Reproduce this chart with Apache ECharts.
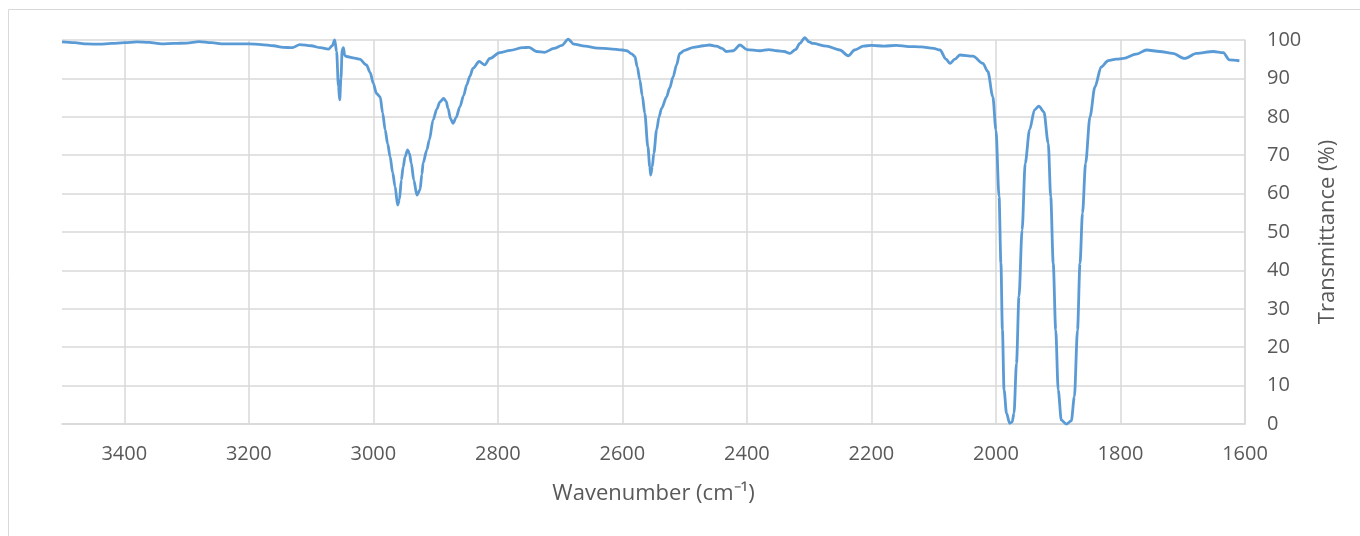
<!DOCTYPE html>
<html>
<head>
<meta charset="utf-8">
<title>IR spectrum</title>
<script src="https://cdn.jsdelivr.net/npm/echarts@6/dist/echarts.min.js"></script>
<style>
  html, body { margin: 0; padding: 0; background: #fff; }
  #chart { width: 1360px; height: 536px; }
</style>
</head>
<body>
<div id="chart"></div>
<script>
// wavenumber (cm-1) and transmittance (%)
var wavenumber = [
  3500, 3480, 3460, 3440, 3420, 3400, 3380, 3360, 3340, 3320, 3300, 3280, 3260, 3240, 3220, 3200,
  3180, 3160, 3145, 3130, 3118, 3100, 3085, 3072, 3066, 3062, 3059, 3056, 3054, 3052, 3050, 3048,
  3046, 3043, 3030, 3022, 3011, 3005, 3000, 2995, 2989, 2985, 2981, 2977, 2973, 2969, 2965, 2961,
  2958, 2955, 2952, 2949, 2945, 2942, 2939, 2935, 2930, 2925, 2922, 2920, 2914, 2910, 2904, 2898,
  2893, 2887, 2883, 2880, 2876, 2872, 2867, 2861, 2855, 2850, 2845, 2840, 2830, 2821, 2813, 2797,
  2780, 2760, 2750, 2738, 2725, 2710, 2697, 2687, 2678, 2660, 2640, 2620, 2600, 2593, 2585, 2580,
  2576, 2572, 2568, 2564, 2559, 2556, 2554.5, 2552, 2549.5, 2545, 2541, 2537, 2529, 2524, 2518.6, 2513,
  2508, 2500, 2486, 2470, 2460, 2449, 2440, 2433, 2422, 2411, 2400, 2379, 2365, 2352, 2340, 2331,
  2322, 2315, 2307, 2300, 2294, 2272, 2251, 2237, 2227, 2213, 2200, 2180, 2160, 2140, 2120, 2100,
  2090, 2080, 2074, 2066, 2058, 2037, 2021, 2013, 2005, 2000, 1995, 1992, 1989.6, 1987, 1983, 1978,
  1974, 1971, 1967, 1963, 1958, 1953, 1946, 1938, 1931, 1923, 1916, 1912, 1908, 1904, 1900, 1895,
  1887, 1879, 1874, 1869, 1865, 1861, 1856, 1849, 1841, 1831, 1820, 1807, 1795, 1775, 1758, 1737,
  1716, 1697, 1678, 1651, 1635, 1625, 1609
];
var transmittance = [
  99.5, 99.3, 99.0, 98.9, 99.1, 99.3, 99.5, 99.4, 99.0, 99.1, 99.2, 99.6, 99.3, 99.0, 99.0, 99.0,
  98.8, 98.5, 98.1, 98.0, 98.8, 98.5, 98.0, 97.6, 98.5, 100, 97, 88, 84.4, 90, 97.5, 98,
  96.0, 95.7, 95.3, 95.0, 93.5, 91.5, 88.7, 86.1, 85.2, 81, 76.6, 73, 69.6, 65.5, 61.8, 57,
  58.5, 63.5, 67, 69.6, 71.4, 70.5, 67.9, 63.5, 59.6, 61, 65, 68, 71.4, 74, 79.2, 82,
  83.9, 84.8, 84, 82.2, 79.5, 78.3, 79.8, 82.6, 85.5, 88.3, 90.5, 92.6, 94.4, 93.5, 95.2, 96.7,
  97.3, 98.0, 98.1, 97.0, 96.8, 97.8, 98.6, 100.2, 98.9, 98.4, 97.9, 97.7, 97.4, 97.2, 96.4, 95.7,
  93, 89.6, 85.5, 80.9, 72.2, 67, 64.8, 67, 70.5, 76.6, 80, 82.2, 85.2, 87.5, 90.4, 93.5,
  96.5, 97.3, 98.1, 98.5, 98.7, 98.4, 97.8, 97.0, 97.2, 98.7, 97.5, 97.2, 97.5, 97.2, 97.0, 96.5,
  97.5, 99.1, 100.6, 99.5, 99.1, 98.4, 97.4, 95.9, 97.4, 98.4, 98.6, 98.4, 98.6, 98.3, 98.2, 97.8,
  97.4, 95.0, 93.9, 95.0, 96.1, 95.8, 93.9, 91.8, 85.2, 76.6, 59.2, 41.8, 24.5, 8.9, 2.8, 0.2,
  0.5, 2.8, 15.8, 33.2, 50.5, 67.9, 76.6, 81.8, 82.8, 81.3, 73.1, 59.2, 41.8, 24.5, 8.9, 1.0,
  0.0, 0.8, 7.1, 24.5, 41.8, 54.9, 67.9, 80, 87.8, 93, 94.6, 95, 95.2, 96.3, 97.4, 97.0,
  96.5, 95.2, 96.5, 97.0, 96.7, 94.8, 94.6
];
var xTicks = [1600, 3500, 200];   // min, max, step
var yTicks = [0, 100, 10];

var points = wavenumber.map(function (w, i) { return [w, transmittance[i]]; });

var myChart = echarts.init(document.getElementById('chart'));
var textColor = '#595959';
var gridColor = '#d9d9d9';

myChart.setOption({
  animation: false,
  textStyle: { fontFamily: 'Open Sans' },
  graphic: [{
    type: 'rect',
    shape: { x: 8.5, y: 9.5, width: 1360, height: 600 },
    style: { fill: 'none', stroke: gridColor, lineWidth: 1 },
    silent: true
  }],
  grid: { left: 62, right: 115, top: 40, bottom: 112 },
  xAxis: {
    type: 'value',
    inverse: true,
    min: xTicks[0],
    max: xTicks[1],
    interval: xTicks[2],
    name: 'Wavenumber (cm\u207B\u00B9)',
    nameLocation: 'middle',
    nameGap: 59,
    nameTextStyle: { color: textColor, fontSize: 22 },
    axisLine: { show: true, lineStyle: { color: gridColor, width: 1.5 } },
    axisTick: { show: false },
    axisLabel: {
      color: textColor, fontSize: 20, margin: 20, showMaxLabel: false,
      formatter: function (v) { return String(v); }
    },
    splitLine: { show: true, showMaxLine: false, lineStyle: { color: gridColor, width: 1.5 } }
  },
  yAxis: {
    type: 'value',
    position: 'right',
    min: yTicks[0],
    max: yTicks[1],
    interval: yTicks[2],
    name: 'Transmittance (%)',
    nameLocation: 'middle',
    nameRotate: 90,
    nameGap: 72,
    nameTextStyle: { color: textColor, fontSize: 22 },
    axisLine: { show: true, lineStyle: { color: gridColor, width: 1.5 } },
    axisTick: { show: false },
    axisLabel: { color: textColor, fontSize: 20, margin: 22 },
    splitLine: { show: true, lineStyle: { color: gridColor, width: 1.5 } }
  },
  series: [{
    type: 'line',
    data: points,
    showSymbol: false,
    clip: false,
    smooth: 0.3,
    smoothMonotone: 'x',
    lineStyle: { color: '#5b9bd5', width: 2.8 }
  }]
});
</script>
</body>
</html>
